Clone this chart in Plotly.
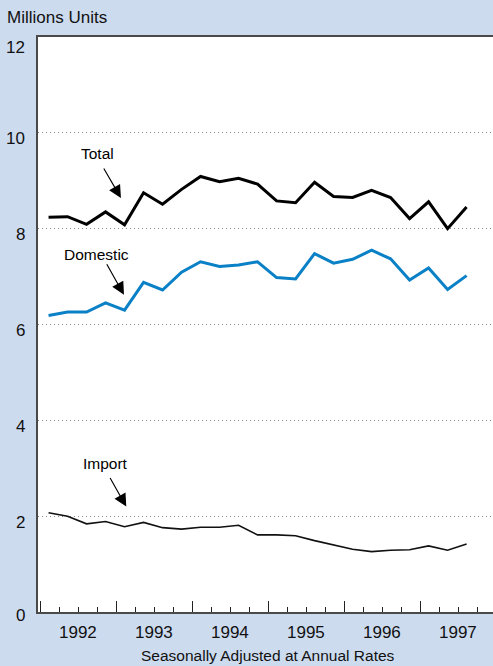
import plotly.graph_objects as go

# ---- data ----
quarters = ["1992Q1", "1992Q2", "1992Q3", "1992Q4",
            "1993Q1", "1993Q2", "1993Q3", "1993Q4",
            "1994Q1", "1994Q2", "1994Q3", "1994Q4",
            "1995Q1", "1995Q2", "1995Q3", "1995Q4",
            "1996Q1", "1996Q2", "1996Q3", "1996Q4",
            "1997Q1", "1997Q2", "1997Q3"]
total = [8.24, 8.25, 8.09, 8.35, 8.08, 8.75, 8.51, 8.82, 9.09, 8.98, 9.05, 8.93,
         8.58, 8.54, 8.97, 8.67, 8.65, 8.80, 8.65, 8.21, 8.56, 8.00, 8.45]
domestic = [6.19, 6.26, 6.26, 6.45, 6.30, 6.88, 6.72, 7.09, 7.31, 7.21, 7.24, 7.31,
            6.98, 6.95, 7.48, 7.28, 7.36, 7.55, 7.37, 6.93, 7.18, 6.73, 7.02]
imports = [2.07, 2.00, 1.84, 1.89, 1.78, 1.87, 1.76, 1.73, 1.77, 1.77, 1.81, 1.61,
           1.61, 1.59, 1.49, 1.40, 1.31, 1.26, 1.29, 1.30, 1.38, 1.29, 1.42]
years = ["1992", "1993", "1994", "1995", "1996", "1997"]
y_ticks = [0, 2, 4, 6, 8, 10, 12]


# quarter label -> position (mid-quarter) on a numeric axis where each year spans 4 units
def qpos(q):
    y = int(q[:4]) - 1992
    n = int(q[-1]) - 1
    return y * 4 + n + 0.45


x = [qpos(q) for q in quarters]

BG = "#cddbef"
BLUE = "#0a80c6"
REG = "Liberation Sans, Arial, Helvetica, sans-serif"

fig = go.Figure()
fig.add_trace(go.Scatter(x=x, y=imports, mode="lines",
                         line=dict(color="#111111", width=1.6), name="Import"))
fig.add_trace(go.Scatter(x=x, y=domestic, mode="lines",
                         line=dict(color=BLUE, width=3), name="Domestic"))
fig.add_trace(go.Scatter(x=x, y=total, mode="lines",
                         line=dict(color="#000000", width=3), name="Total"))

ann = []
# y tick labels
for v in y_ticks:
    shift = -10 if v == 12 else (-3 if v == 0 else -6)
    ann.append(dict(text=str(v), xref="paper", x=0, xanchor="right", xshift=-11,
                    yref="y", y=v, yanchor="middle", yshift=shift, showarrow=False,
                    font=dict(family=REG, size=17, color="#111111")))
# year labels
for i, yr in enumerate(years):
    ann.append(dict(text=yr, xref="x", x=i * 4 + 2, yref="paper", y=0, yanchor="top",
                    yshift=-9, showarrow=False,
                    font=dict(family=REG, size=17, color="#111111")))
# titles
ann.append(dict(text="Millions Units", xref="paper", x=-38 / 455, xanchor="left",
                xshift=5, yref="paper", y=1, yanchor="bottom", yshift=8,
                showarrow=False, font=dict(family=REG, size=17, color="#111111")))
ann.append(dict(text="Seasonally Adjusted at Annual Rates", xref="paper", x=0.5,
                xshift=2, yref="paper", y=0, yanchor="top", yshift=-33,
                showarrow=False, font=dict(family=REG, size=15.5, color="#111111")))

# series labels with arrows
labels = [("Total", 3.05, 9.57, 4.26, 8.64, -18, -31),
          ("Domestic", 2.95, 7.47, 4.42, 6.62, -18, -32),
          ("Import", 3.47, 3.09, 4.54, 2.20, -17, -30)]
for txt, tx, ty, ax_, ay_, dx, dy in labels:
    ann.append(dict(text=txt, x=tx, y=ty, xref="x", yref="y", showarrow=False,
                    font=dict(family=REG, size=15.5, color="#000000")))
    ann.append(dict(text="", x=ax_, y=ay_, xref="x", yref="y", showarrow=True,
                    ax=dx, ay=dy, arrowhead=2, arrowsize=2.2, arrowwidth=1.15,
                    arrowcolor="#000000"))

fig.update_layout(
    width=493, height=666,
    paper_bgcolor=BG, plot_bgcolor="white",
    margin=dict(l=38, r=0, t=37, b=54),
    showlegend=False,
    annotations=ann,
    xaxis=dict(range=[-0.105, 23.84], tickvals=[0, 4, 8, 12, 16, 20, 24],
               ticks="inside", ticklen=11, tickwidth=1, tickcolor="#222222",
               showticklabels=False, showgrid=False, zeroline=False,
               showline=True, linecolor="#4a4a4a", linewidth=2, mirror=True,
               minor=dict(dtick=1, tick0=0, ticks="inside", ticklen=5,
                          tickwidth=1, tickcolor="#222222", showgrid=False)),
    yaxis=dict(range=[0, 12], tickvals=y_ticks, showticklabels=False,
               showgrid=True, gridcolor="#8a8a8a", griddash="1px,3px", gridwidth=1,
               zeroline=False, showline=True, linecolor="#4a4a4a", linewidth=2,
               ticks=""),
)

fig.write_html("out.html",
               config={"displayModeBar": False},
               post_script="document.body.style.margin='0px';"
                           "document.body.style.overflow='hidden';")
